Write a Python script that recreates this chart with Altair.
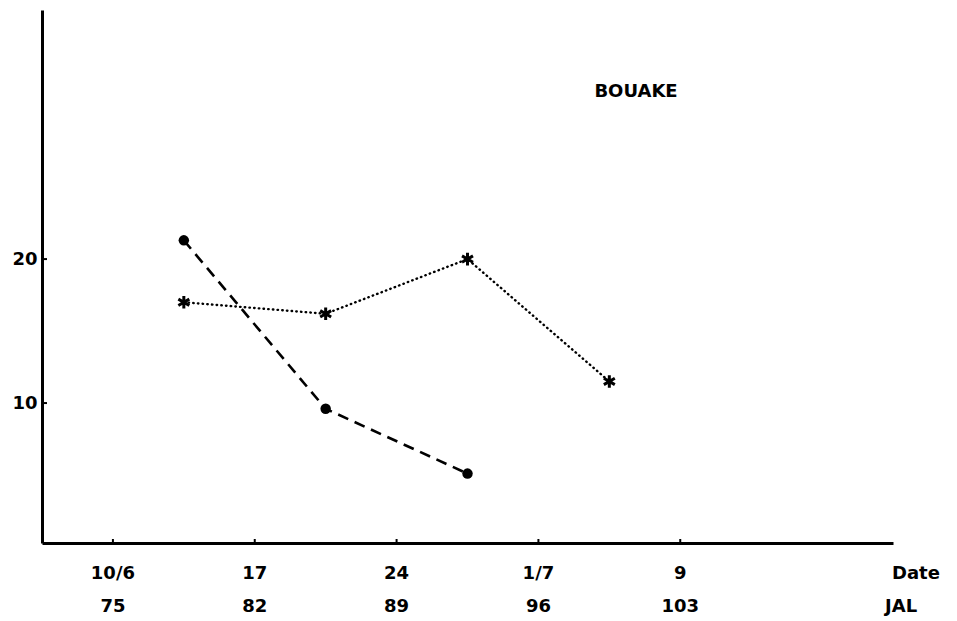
import altair as alt
import pandas as pd

# Data (JAL = Julian day; values on the y axis)
jal_dash = [78.5, 85.5, 92.5]
val_dash = [21.3, 9.6, 5.1]
jal_star = [78.5, 85.5, 92.5, 99.5]
val_star = [17.0, 16.2, 20.0, 11.5]
tick_jal = [75, 82, 89, 96, 103]
tick_date = ["10/6", "17", "24", "1/7", "9"]
tick_jal_lbl = ["75", "82", "89", "96", "103"]
y_ticks = [10, 20]

W, H = 851, 533
FONT = "DejaVu Sans"

df_dash = pd.DataFrame({"jal": jal_dash, "val": val_dash})
df_star = pd.DataFrame({"jal": jal_star, "val": val_star})
df_xt = pd.DataFrame({"jal": tick_jal, "date": tick_date, "lbl": tick_jal_lbl})
df_yt = pd.DataFrame({"val": y_ticks})

xs = alt.Scale(domain=[71.5, 113.5], nice=False, zero=False)
ys = alt.Scale(domain=[0.28, 37.3], nice=False, zero=False)

x_axis = alt.Axis(labels=False, ticks=False, grid=False, title=None,
                  domainWidth=3, domainColor="black")
y_axis = alt.Axis(values=y_ticks, ticks=False, grid=False, title=None,
                  domainWidth=3, domainColor="black", labelFont=FONT,
                  labelFontSize=18, labelFontWeight="bold", labelColor="black",
                  labelPadding=5)

dash_line = alt.Chart(df_dash).mark_line(
    color="black", strokeWidth=2.6, strokeDash=[11, 7]
).encode(
    x=alt.X("jal:Q", scale=xs, axis=x_axis),
    y=alt.Y("val:Q", scale=ys, axis=y_axis),
)
dash_pts = alt.Chart(df_dash).mark_point(
    shape="circle", filled=True, color="black", size=110, opacity=1,
    strokeWidth=0
).encode(x=alt.X("jal:Q", scale=xs), y=alt.Y("val:Q", scale=ys))

star_line = alt.Chart(df_star).mark_line(
    color="black", strokeWidth=2.4, strokeDash=[0.5, 4.2], strokeCap="round"
).encode(x=alt.X("jal:Q", scale=xs), y=alt.Y("val:Q", scale=ys))
star_pts = alt.Chart(df_star).mark_point(
    shape="M0,-1L0,1M-0.866,-0.5L0.866,0.5M-0.866,0.5L0.866,-0.5",
    filled=False, color="black", strokeWidth=3, size=160, opacity=1
).encode(x=alt.X("jal:Q", scale=xs), y=alt.Y("val:Q", scale=ys))

# inward tick marks
x_ticks = alt.Chart(df_xt).mark_rule(color="black", strokeWidth=2).encode(
    x=alt.X("jal:Q", scale=xs), y=alt.value(H), y2=alt.value(H - 4))
y_tick_marks = alt.Chart(df_yt).mark_rule(color="black", strokeWidth=2).encode(
    y=alt.Y("val:Q", scale=ys), x=alt.value(0), x2=alt.value(5))

lbl_kw = dict(font=FONT, fontSize=18, fontWeight="bold", color="black",
              align="center", baseline="middle")
x_lbl1 = alt.Chart(df_xt).mark_text(**lbl_kw).encode(
    x=alt.X("jal:Q", scale=xs), y=alt.value(H + 31), text="date:N")
x_lbl2 = alt.Chart(df_xt).mark_text(**lbl_kw).encode(
    x=alt.X("jal:Q", scale=xs), y=alt.value(H + 64), text="lbl:N")

date_t = alt.Chart(pd.DataFrame({"t": ["Date"]})).mark_text(
    font=FONT, fontSize=18, fontWeight="bold", color="black", align="left",
    baseline="middle"
).encode(x=alt.value(850), y=alt.value(H + 31), text="t:N")
jal_t = alt.Chart(pd.DataFrame({"t": ["JAL"]})).mark_text(
    font=FONT, fontSize=18, fontWeight="bold", color="black", align="left",
    baseline="middle"
).encode(x=alt.value(843), y=alt.value(H + 64), text="t:N")
title_t = alt.Chart(pd.DataFrame({"t": ["BOUAKE"]})).mark_text(
    font=FONT, fontSize=18, fontWeight="bold", color="black", align="center",
    baseline="middle"
).encode(x=alt.value(594), y=alt.value(82), text="t:N")

chart = alt.layer(
    dash_line, star_line, dash_pts, star_pts, x_ticks, y_tick_marks,
    x_lbl1, x_lbl2, date_t, jal_t, title_t
).properties(
    width=W, height=H,
    autosize=alt.AutoSizeParams(type="none"),
    padding={"left": 34, "top": 2, "right": 56, "bottom": 76},
).configure(background="white").configure_view(stroke=None)

chart.save("out.html", embed_options={"renderer": "svg", "actions": False})
